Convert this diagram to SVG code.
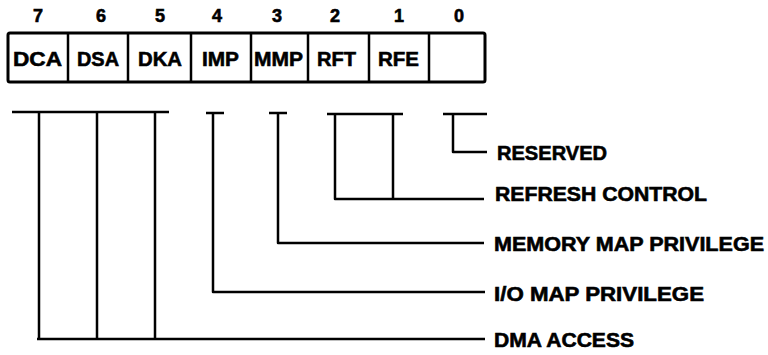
<svg xmlns="http://www.w3.org/2000/svg" width="768" height="355" viewBox="0 0 768 355">
<style>
.t{font-family:"Liberation Sans",Arial,Helvetica,sans-serif;font-weight:bold;fill:#000;stroke:#000;stroke-width:0.6}
.num{font-size:18px;text-anchor:middle}
.cell{font-size:21px;text-anchor:middle}
.lbl{font-size:20px}
.box{fill:#fff;stroke:#000;stroke-width:3}
.div{stroke:#000;stroke-width:2.5}
.ln{fill:none;stroke:#000;stroke-width:2.5;stroke-linejoin:round;stroke-linecap:butt}
</style>
<rect width="768" height="355" fill="#fff"/>
<g id="register">
<rect class="box" x="8" y="33" width="477" height="49" rx="2"/>
<line class="div" x1="68" y1="33" x2="68" y2="82"/>
<line class="div" x1="128" y1="33" x2="128" y2="82"/>
<line class="div" x1="191" y1="33" x2="191" y2="82"/>
<line class="div" x1="251" y1="33" x2="251" y2="82"/>
<line class="div" x1="308" y1="33" x2="308" y2="82"/>
<line class="div" x1="369" y1="33" x2="369" y2="82"/>
<line class="div" x1="429" y1="33" x2="429" y2="82"/>
</g>
<g id="bit-numbers">
<text class="t num" x="38" y="22">7</text>
<text class="t num" x="101" y="22">6</text>
<text class="t num" x="160" y="22">5</text>
<text class="t num" x="217" y="22">4</text>
<text class="t num" x="277" y="22">3</text>
<text class="t num" x="335" y="22">2</text>
<text class="t num" x="399" y="22">1</text>
<text class="t num" x="459" y="22">0</text>
</g>
<g id="bit7"><text class="t cell" x="37.5" y="66" textLength="49" lengthAdjust="spacingAndGlyphs">DCA</text></g>
<g id="bit6"><text class="t cell" x="98" y="66" textLength="42" lengthAdjust="spacingAndGlyphs">DSA</text></g>
<g id="bit5"><text class="t cell" x="160" y="66" textLength="44" lengthAdjust="spacingAndGlyphs">DKA</text></g>
<g id="bit4"><text class="t cell" x="220.5" y="66" textLength="37" lengthAdjust="spacingAndGlyphs">IMP</text></g>
<g id="bit3"><text class="t cell" x="278.5" y="66" textLength="49" lengthAdjust="spacingAndGlyphs">MMP</text></g>
<g id="bit2"><text class="t cell" x="336.5" y="66" textLength="39" lengthAdjust="spacingAndGlyphs">RFT</text></g>
<g id="bit1"><text class="t cell" x="398.5" y="66" textLength="41" lengthAdjust="spacingAndGlyphs">RFE</text></g>
<g id="connectors">
<path class="ln" d="M12,112 H169 M39,112 V339 M97,112 V339 M155,112 V339 M37,339 H485"/>
<path class="ln" d="M206,113 H224 M213,113 V292 H485"/>
<path class="ln" d="M269,113 H287 M278,113 V243 H484"/>
<path class="ln" d="M327,114 H403 M335,114 V199 H484 M393,114 V199"/>
<path class="ln" d="M443,114 H487 M453,114 V152 H487"/>
</g>
<g id="label-reserved"><text class="t lbl" x="497" y="160" textLength="110" lengthAdjust="spacingAndGlyphs">RESERVED</text></g>
<g id="label-refresh"><text class="t lbl" x="495" y="201" textLength="212" lengthAdjust="spacingAndGlyphs">REFRESH CONTROL</text></g>
<g id="label-mmp"><text class="t lbl" x="494" y="251" textLength="270" lengthAdjust="spacingAndGlyphs">MEMORY MAP PRIVILEGE</text></g>
<g id="label-imp"><text class="t lbl" x="494" y="301" textLength="210" lengthAdjust="spacingAndGlyphs">I/O MAP PRIVILEGE</text></g>
<g id="label-dma"><text class="t lbl" x="494" y="347" textLength="140" lengthAdjust="spacingAndGlyphs">DMA ACCESS</text></g>
</svg>
